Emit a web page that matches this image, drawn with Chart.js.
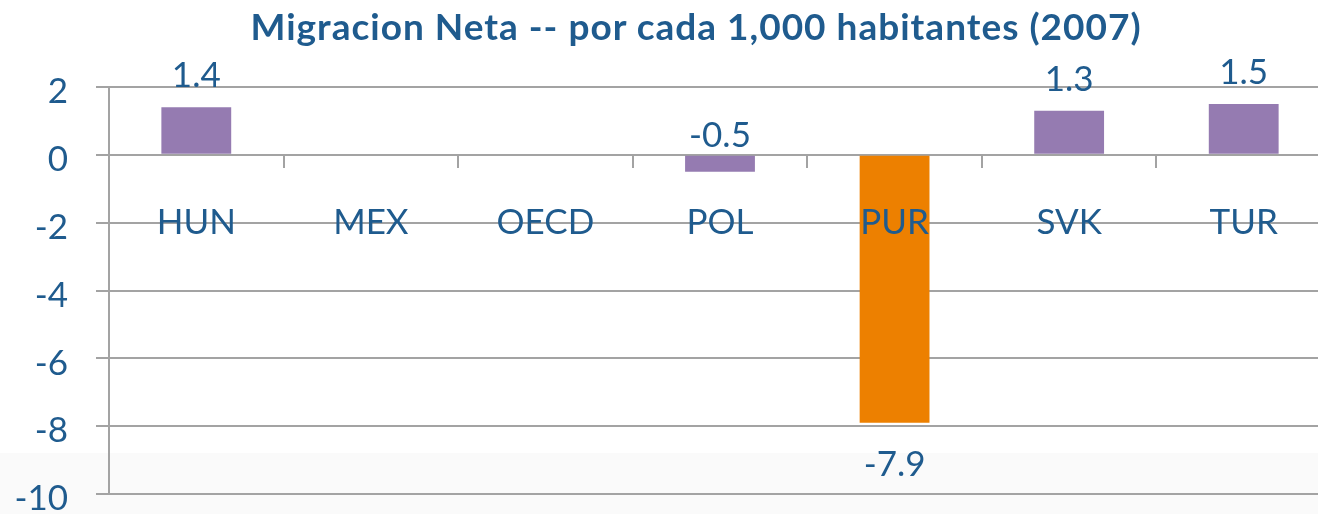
<!DOCTYPE html>
<html>
<head>
<meta charset="utf-8">
<script src="https://cdn.jsdelivr.net/npm/chart.js@4/dist/chart.umd.min.js"></script>
<style>
  html, body { margin: 0; padding: 0; overflow: hidden; }
  body { width: 1318px; height: 514px; background: linear-gradient(to bottom, #fff 453px, #fafafa 453px); font-family: Lato, sans-serif; position: relative; }
  .title { position: absolute; left: 0; top: 7px; width: 1392px; text-align: center; font: bold 37px/1 Lato, sans-serif; letter-spacing: 1px; color: #1f5b8e; white-space: nowrap; z-index: 2; }
  .wrap { position: absolute; left: 0; top: 0; width: 1331px; height: 514px; }
</style>
</head>
<body>
<div class="title">Migracion Neta -- por cada 1,000 habitantes (2007)</div>
<div class="wrap"><canvas id="migChart"></canvas></div>
<script>
const categories = ['HUN', 'MEX', 'OECD', 'POL', 'PUR', 'SVK', 'TUR'];
const netMigration = [1.4, null, null, -0.5, -7.9, 1.3, 1.5];
const yMin = -10, yMax = 2, yStep = 2;
const highlight = 'PUR';

const TEXT = '#1f5b8e';
const GRID = '#a3a3a3';
const FONT = { family: 'Lato, sans-serif', size: 35 };

// value labels: above positive bars, below long negative bars, above the base for short ones
const valueLabels = {
  id: 'valueLabels',
  afterDatasetsDraw(chart) {
    const ctx = chart.ctx;
    const meta = chart.getDatasetMeta(0);
    ctx.save();
    ctx.font = `${FONT.size}px ${FONT.family}`;
    ctx.fillStyle = TEXT;
    ctx.textAlign = 'center';
    ctx.textBaseline = 'alphabetic';
    meta.data.forEach((bar, i) => {
      const v = netMigration[i];
      if (v == null) return;
      const txt = v.toFixed(1);
      let y;
      if (v >= 0) y = bar.y - 20;
      else if (bar.y - bar.base < 40) y = bar.base - 9;
      else y = bar.y + 53;
      ctx.fillText(txt, bar.x, y);
    });
    ctx.restore();
  }
};

new Chart(document.getElementById('migChart'), {
  type: 'bar',
  data: {
    labels: categories,
    datasets: [{
      data: netMigration,
      backgroundColor: categories.map(c => c === highlight ? '#ed8000' : '#957bb1'),
      barPercentage: 0.4,
      categoryPercentage: 1
    }]
  },
  options: {
    responsive: true,
    maintainAspectRatio: false,
    animation: false,
    layout: { padding: { left: 0, right: 0, top: 87, bottom: 20 } },
    plugins: { legend: { display: false }, tooltip: { enabled: false }, title: { display: false } },
    scales: {
      x: {
        position: { y: 0 },
        grid: { drawOnChartArea: false, color: GRID, lineWidth: 2, tickLength: 12, offset: true },
        border: { display: true, color: GRID, width: 2 },
        ticks: { z: 1, color: TEXT, font: FONT, padding: 35, maxRotation: 0, autoSkip: false },
        afterFit(s) { s.paddingLeft = 0; s.paddingRight = 0; }
      },
      y: {
        min: yMin,
        max: yMax,
        grid: { color: GRID, lineWidth: 2, tickLength: 13 },
        border: { display: true, color: GRID, width: 2 },
        ticks: { stepSize: yStep, color: TEXT, font: FONT, padding: 28, labelOffset: 5 },
        afterFit(s) { s.width = 109; s.paddingTop = 0; s.paddingBottom = 0; }
      }
    }
  },
  plugins: [valueLabels]
});
</script>
</body>
</html>
